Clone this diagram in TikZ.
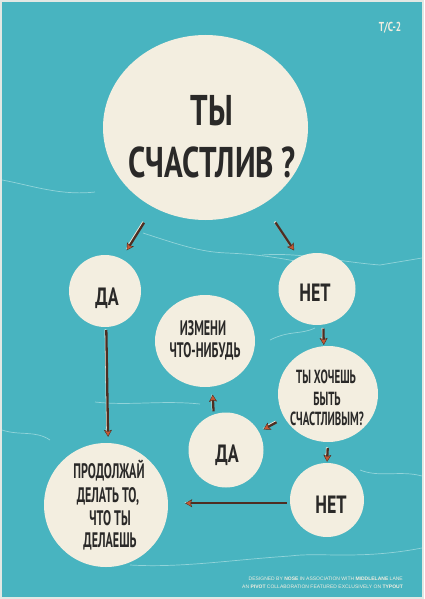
\documentclass[tikz,border=0pt]{standalone}
\usepackage{fontspec}
\setmainfont{PT Sans}
\newfontfamily\bigfont[FakeStretch=0.72]{PT Sans}
\newfontfamily\smfont[FakeStretch=0.575]{PT Sans}
\newfontfamily\credfont{Liberation Sans}
\usetikzlibrary{arrows.meta,shapes.geometric}
\definecolor{bg}{RGB}{72,180,192}
\definecolor{cream}{RGB}{243,238,224}
\definecolor{ink}{RGB}{42,41,40}
\definecolor{shaft}{RGB}{78,46,34}
\definecolor{tipc}{RGB}{196,88,52}
\definecolor{frame}{RGB}{226,232,228}
\definecolor{vein}{RGB}{205,238,238}
\tikzset{
 bubble/.style={ellipse, fill=cream, draw=none, inner sep=0pt},
 word/.style={text=ink, inner sep=0pt, anchor=base},
 bigword/.style={word, font=\bigfont\bfseries\fontsize{43}{43}\selectfont},
 answer/.style={word, font=\bigfont\bfseries\fontsize{25}{25}\selectfont},
 smallword/.style={word, font=\smfont\bfseries\fontsize{21}{21}\selectfont},
 midword/.style={word, font=\smfont\bfseries\fontsize{19}{19}\selectfont},
 credit/.style={text=cream, inner sep=0pt, anchor=base east, font=\credfont\fontsize{5}{5}\selectfont},
 arr/.style={draw=shaft, line width=2.3pt,
   -{Stealth[length=7pt,width=8pt,inset=1.5pt,fill=tipc,color=shaft,line width=0.4pt]},
   preaction={draw=cream, line width=1.8pt,
     -{Stealth[length=7pt,width=3pt,color=cream]},
     transform canvas={shift={(-0.8pt,0.8pt)}}}},
 veinline/.style={draw=vein, line width=0.7pt, opacity=0.55},
}
\begin{document}
\begin{tikzpicture}[x=1pt,y=-1pt]
\fill[frame] (0,0) rectangle (424,599);
\fill[bg] (2,2) rectangle (422,597);
\useasboundingbox (0,0) rectangle (424,599);
% texture veins
\draw[veinline] (143,233) .. controls (180,245) and (200,252) .. (227,253) .. controls (250,254) and (270,256) .. (300,262);
\draw[veinline] (262,255) .. controls (300,252) and (340,262) .. (380,265) -- (422,258);
\draw[veinline] (2,180) .. controls (30,185) and (60,196) .. (95,192);
\draw[veinline] (95,402) .. controls (130,406) and (160,400) .. (200,404);
\draw[veinline] (270,340) .. controls (290,330) and (300,335) .. (315,328);
\draw[veinline] (130,565) .. controls (180,568) and (230,560) .. (290,556) .. controls (320,552) and (360,560) .. (422,548);
\draw[veinline] (360,470) .. controls (380,478) and (400,470) .. (422,476);
\draw[veinline] (2,430) .. controls (20,436) and (35,430) .. (50,440);
% bubbles
\node[bubble, minimum width=205pt, minimum height=185pt] (big) at (205.5,127.5) {};
\node[bubble, minimum width=72pt, minimum height=72pt] (da) at (105,291) {};
\node[bubble, minimum width=77pt, minimum height=72pt] (net) at (317,289) {};
\node[bubble, minimum width=100pt, minimum height=92pt] (izm) at (205,341) {};
\node[bubble, minimum width=100pt, minimum height=96pt] (hoch) at (328,394) {};
\node[bubble, minimum width=75pt, minimum height=75pt] (dalow) at (226,450) {};
\node[bubble, minimum width=74pt, minimum height=74pt] (netlow) at (327,500) {};
\node[bubble, minimum width=124pt, minimum height=124pt] (prod) at (106,505) {};
% texts
\node[bigword] (q1) at (212,125) {ТЫ};
\node[bigword] (q2) at (212,177) {СЧАСТЛИВ\,?};
\node[answer] (tda) at (107,305.5) {ДА};
\node[answer] (tnet) at (315,301) {НЕТ};
\node[smallword] (i1) at (203,335) {ИЗМЕНИ};
\node[smallword] (i2) at (205,357) {ЧТО-НИБУДЬ};
\node[midword] (h1) at (326,383) {ТЫ ХОЧЕШЬ};
\node[midword] (h2) at (327,405) {БЫТЬ};
\node[midword] (h3) at (327,425) {СЧАСТЛИВЫМ?};
\node[answer] (tdalow) at (227,462) {ДА};
\node[answer] (tnetlow) at (331,513) {НЕТ};
\node[smallword] (p1) at (109,478) {ПРОДОЛЖАЙ};
\node[smallword] (p2) at (108,502) {ДЕЛАТЬ ТО,};
\node[smallword] (p3) at (110,525) {ЧТО ТЫ};
\node[smallword] (p4) at (110,547) {ДЕЛАЕШЬ};
% arrows
\draw[arr, shorten <=18pt, shorten >=10pt] (big.237) -- (da.63);
\draw[arr, shorten <=22pt, shorten >=8pt] (big.307) -- (net.120);
\draw[arr, shorten <=3pt, shorten >=6pt] (da.-88) -- (prod.88);
\draw[arr, shorten <=4pt, shorten >=1pt] (net.-80) -- (hoch.95);
\draw[arr, shorten <=9pt, shorten >=5pt] (hoch) -- (dalow);
\draw[arr, shorten <=6pt, shorten >=1pt] (hoch.-90) -- (netlow.90);
\draw[arr, shorten <=3pt, shorten >=8pt] (dalow.109) -- (izm.-81);
\draw[arr, shorten <=3pt, shorten >=17pt] (netlow.185) -- (prod.east |- netlow.185);
% tag and credits
\node[anchor=base, text=cream, inner sep=0pt, font=\bigfont\bfseries\fontsize{13}{13}\selectfont] (tag) at (390,32) {Т/С-2};
\node[credit] (cr1) at (403,580) {DESIGNED BY \textbf{NOSE} IN ASSOCIATION WITH \textbf{MIDDLELANE} LANE};
\node[credit] (cr2) at (403,588) {AN \textbf{PIVOT} COLLABORATION FEATURED EXCLUSIVELY ON \textbf{TYPOUT}};
\end{tikzpicture}
\end{document}
